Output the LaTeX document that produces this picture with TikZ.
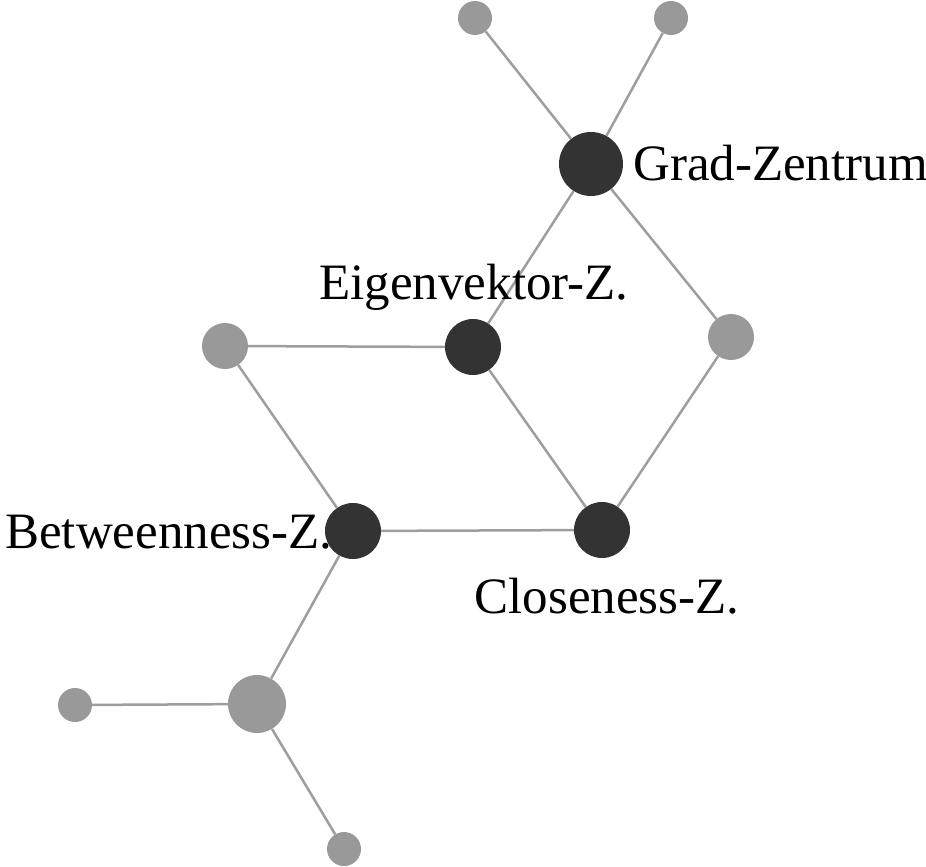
\documentclass[tikz,border=0pt]{standalone}
\usepackage{fontspec}
\setmainfont{Liberation Serif}
\begin{document}
\begin{tikzpicture}[x=1pt,y=-1pt,
  dark/.style={circle,fill={rgb,255:red,51;green,51;blue,51},draw=none,inner sep=0pt,minimum size=56pt},
  grey/.style={circle,fill={rgb,255:red,153;green,153;blue,153},draw=none,inner sep=0pt,minimum size=46pt},
  edge/.style={draw={rgb,255:red,158;green,158;blue,158},line width=2.5pt},
  lbl/.style={inner sep=0pt,font=\fontsize{51}{60}\selectfont}]
\useasboundingbox (0,0) rectangle (926,867);
% nodes
\node[grey,minimum size=34pt] (tl) at (475,18) {};
\node[grey,minimum size=34pt] (tr) at (671,18) {};
\node[dark,minimum size=64pt] (grad) at (591,164) {};
\node[dark] (eig) at (473,347) {};
\node[grey] (lg) at (225,346) {};
\node[grey] (rg) at (731,337) {};
\node[dark] (bet) at (353,531) {};
\node[dark] (clo) at (602,530) {};
\node[grey,minimum size=58pt] (lb) at (257,704) {};
\node[grey,minimum size=34pt] (ls) at (75,705) {};
\node[grey,minimum size=34pt] (bs) at (344,849) {};
% edges
\draw[edge] (tl) -- (grad);
\draw[edge] (tr) -- (grad);
\draw[edge] (grad) -- (eig);
\draw[edge] (grad) -- (rg);
\draw[edge] (lg) -- (eig);
\draw[edge] (eig) -- (clo);
\draw[edge] (rg) -- (clo);
\draw[edge] (lg) -- (bet);
\draw[edge] (bet) -- (clo);
\draw[edge] (bet) -- (lb);
\draw[edge] (ls) -- (lb);
\draw[edge] (lb) -- (bs);
% labels
\node[lbl,anchor=base west] (tgrad) at (633,180) {Grad-Zentrum};
\node[lbl,anchor=base] (teig) at (474,299) {Eigenvektor-Z.};
\node[lbl,anchor=base west] (tbet) at (5,548) {Betweenness-Z.};
\node[lbl,anchor=base] (tclo) at (607,613) {Closeness-Z.};
\end{tikzpicture}
\end{document}
